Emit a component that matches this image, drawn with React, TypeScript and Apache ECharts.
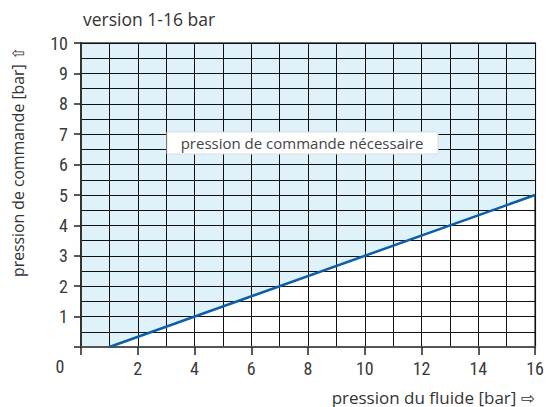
import React, { useEffect, useRef } from "react";
import * as echarts from "echarts";

const title = "version 1-16 bar";
const xName = "pression du fluide [bar] ⇨";
const yName = "pression de commande [bar] ⇧";
const regionLabel = "pression de commande nécessaire";
const xMin = 0, xMax = 16, xStep = 2;
const yMin = 0, yMax = 10, yStep = 1;
const curve: [number, number][] = [[1, 0], [16, 5]];
const regionBoundary: [number, number][] = [[0, 0], [1, 0], [16, 5]];

const FONT = "'Open Sans', 'DejaVu Sans', sans-serif";
const NUMFONT = "'Liberation Sans Narrow', 'Roboto Condensed', Roboto, sans-serif";

export default function App() {
  const ref = useRef<HTMLDivElement>(null);
  useEffect(() => {
    const chart = echarts.init(ref.current!, null, { renderer: "svg" });
    chart.setOption({
      animation: false,
      backgroundColor: "#ffffff",
      grid: { left: 81, right: 10, top: 43, bottom: 60, show: true, borderColor: "#6a6a6a", borderWidth: 2, backgroundColor: "transparent" },
      xAxis: {
        type: "value", min: xMin, max: xMax, interval: xStep, z: 5,
        axisLine: { show: true, onZero: false, lineStyle: { color: "#555", width: 2 } },
        axisTick: { show: true, length: 8, lineStyle: { color: "#222", width: 1.5 } },
        axisLabel: { margin: 12, fontSize: 18, color: "#3a3a3a", fontFamily: NUMFONT, formatter: (v: number) => (v === 0 ? "" : String(v)) },
        splitLine: { show: true, lineStyle: { color: "#111", width: 1 } },
        minorTick: { show: false, splitNumber: 2 },
        minorSplitLine: { show: true, lineStyle: { color: "#111", width: 1 } },
      },
      yAxis: {
        type: "value", min: yMin, max: yMax, interval: yStep, z: 5,
        axisLine: { show: true, onZero: false, lineStyle: { color: "#333", width: 2 } },
        axisTick: { show: true, length: 7, lineStyle: { color: "#222", width: 1.5 } },
        axisLabel: { margin: 13, fontSize: 18, color: "#3a3a3a", fontFamily: NUMFONT, formatter: (v: number) => (v === 0 ? "" : String(v)) },
        splitLine: { show: true, lineStyle: { color: "#111", width: 1 } },
        minorTick: { show: false, splitNumber: 2 },
        minorSplitLine: { show: true, lineStyle: { color: "#111", width: 1 } },
      },
      series: [
        {
          type: "line", data: regionBoundary, symbol: "none", z: 0, silent: true,
          lineStyle: { opacity: 0, width: 0 },
          areaStyle: { color: "#dff2fa", opacity: 1, origin: "end" },
        },
        {
          type: "line", data: curve, symbol: "none", z: 10,
          lineStyle: { color: "#0c5ea8", width: 2.5 },
        },
      ],
      graphic: [
        { type: "text", x: 83, y: 19, style: { text: title, fontSize: 17.5, fill: "#333", fontFamily: FONT, verticalAlign: "middle" } },
        { type: "text", x: 60, y: 366, style: { text: "0", fontSize: 18, fill: "#3a3a3a", fontFamily: NUMFONT, align: "center", verticalAlign: "middle" } },
        { type: "text", x: 535, y: 397, style: { text: xName, fontSize: 17, fill: "#333", fontFamily: FONT, align: "right", verticalAlign: "middle" } },
        { type: "text", x: 18, y: 162, rotation: Math.PI / 2, style: { text: yName, fontSize: 15.8, fill: "#333", fontFamily: FONT, align: "center", verticalAlign: "middle" } },
        { type: "rect", z: 20, shape: { x: 167, y: 132, width: 271, height: 22 }, style: { fill: "#ffffff", stroke: "#dcdcdc", lineWidth: 1 } },
        { type: "text", z: 21, x: 302, y: 143, style: { text: regionLabel, fontSize: 15, fill: "#444", fontFamily: FONT, align: "center", verticalAlign: "middle" } },
      ],
    });
    return () => chart.dispose();
  }, []);
  return <div ref={ref} style={{ position: "absolute", left: 0, top: 0, width: 547, height: 407 }} />;
}
